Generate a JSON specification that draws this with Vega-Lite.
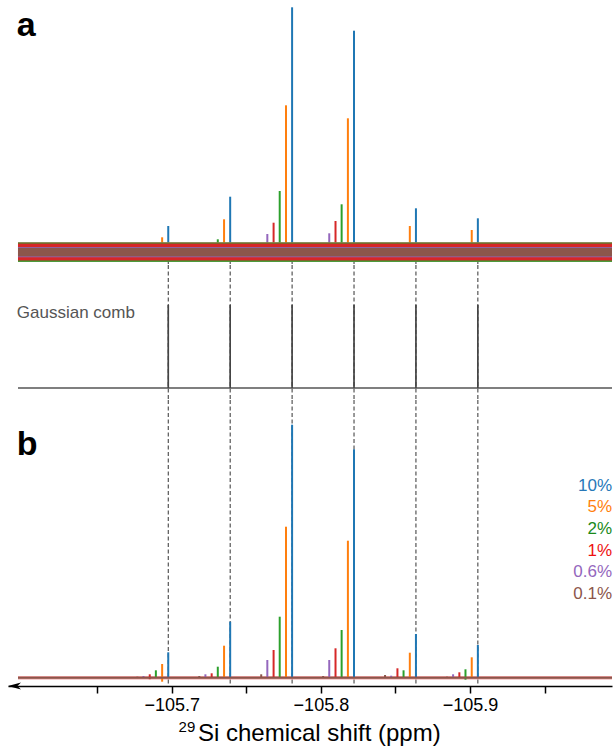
{
  "$schema": "https://vega.github.io/schema/vega-lite/v6.json",
  "background": "white",
  "padding": {"left": 8, "right": 3, "top": 0, "bottom": 0},
  "spacing": 0,
  "bounds": "flush",
  "config": {"view": {"stroke": null}, "font": "Liberation Sans", "concat": {"spacing": 0}},
  "datasets": {
    "peaks": [
      {"series": "10%", "ppm": -105.6977, "a": 26, "b": 25.4, "lo": 0},
      {"series": "5%", "ppm": -105.6936, "a": 14.7, "b": 13.7, "lo": -4},
      {"series": "2%", "ppm": -105.6894, "a": 7.5, "b": 7.4, "lo": 0},
      {"series": "1%", "ppm": -105.6853, "a": 3.5, "b": 3.4, "lo": -1.5},
      {"series": "0.6%", "ppm": -105.6811, "a": 1.7, "b": 1.7, "lo": 0},
      {"series": "0.1%", "ppm": -105.677, "a": 1, "b": 1, "lo": 0},
      {"series": "10%", "ppm": -105.7392, "a": 55.3, "b": 56, "lo": 0},
      {"series": "5%", "ppm": -105.7351, "a": 32.7, "b": 32, "lo": 0},
      {"series": "2%", "ppm": -105.7309, "a": 12.7, "b": 11, "lo": 0},
      {"series": "1%", "ppm": -105.7268, "a": 4.4, "b": 4.4, "lo": 0},
      {"series": "0.6%", "ppm": -105.7226, "a": 3.4, "b": 3.4, "lo": 0},
      {"series": "0.1%", "ppm": -105.7185, "a": 1.7, "b": 1.7, "lo": 0},
      {"series": "10%", "ppm": -105.7807, "a": 244.7, "b": 253, "lo": 0},
      {"series": "5%", "ppm": -105.7766, "a": 146.7, "b": 151, "lo": 0},
      {"series": "2%", "ppm": -105.7724, "a": 61, "b": 61, "lo": 0},
      {"series": "1%", "ppm": -105.7683, "a": 29.3, "b": 27.7, "lo": 0},
      {"series": "0.6%", "ppm": -105.7641, "a": 18, "b": 17.7, "lo": 0},
      {"series": "0.1%", "ppm": -105.76, "a": 3.4, "b": 3.4, "lo": 0},
      {"series": "10%", "ppm": -105.8222, "a": 221.3, "b": 228.4, "lo": 0},
      {"series": "5%", "ppm": -105.8181, "a": 133.7, "b": 137, "lo": 0},
      {"series": "2%", "ppm": -105.8139, "a": 47.7, "b": 47.7, "lo": 0},
      {"series": "1%", "ppm": -105.8098, "a": 31, "b": 29.4, "lo": 0},
      {"series": "0.6%", "ppm": -105.8056, "a": 18.7, "b": 17.7, "lo": 0},
      {"series": "0.1%", "ppm": -105.8015, "a": 1.7, "b": 1.7, "lo": 0},
      {"series": "10%", "ppm": -105.8637, "a": 43.7, "b": 43.7, "lo": 0},
      {"series": "5%", "ppm": -105.8596, "a": 26, "b": 25, "lo": 0},
      {"series": "2%", "ppm": -105.8554, "a": 7.4, "b": 7.4, "lo": 0},
      {"series": "1%", "ppm": -105.8513, "a": 9.4, "b": 9.4, "lo": 0},
      {"series": "0.6%", "ppm": -105.8471, "a": 2, "b": 2, "lo": 0},
      {"series": "0.1%", "ppm": -105.843, "a": 2.7, "b": 2.7, "lo": 0},
      {"series": "10%", "ppm": -105.9052, "a": 33.7, "b": 32.7, "lo": 0},
      {"series": "5%", "ppm": -105.9011, "a": 22, "b": 20.4, "lo": 0},
      {"series": "2%", "ppm": -105.8969, "a": 8.4, "b": 8.4, "lo": -2},
      {"series": "1%", "ppm": -105.8928, "a": 5.4, "b": 5.4, "lo": 0},
      {"series": "0.6%", "ppm": -105.8886, "a": 3.4, "b": 3.4, "lo": 0},
      {"series": "0.1%", "ppm": -105.8845, "a": 1, "b": 1, "lo": 0}
    ],
    "noise": [
      {"series": "10%", "ppm": -105.597, "ppm2": -105.9951, "lo": -9.8, "hi": 9.8},
      {"series": "5%", "ppm": -105.597, "ppm2": -105.9951, "lo": -9.6, "hi": 9.5},
      {"series": "2%", "ppm": -105.597, "ppm2": -105.9951, "lo": -9.7, "hi": 9.2},
      {"series": "1%", "ppm": -105.597, "ppm2": -105.9951, "lo": -8.4, "hi": 8.5},
      {"series": "0.6%", "ppm": -105.597, "ppm2": -105.9951, "lo": -5.2, "hi": 5},
      {"series": "0.1%", "ppm": -105.597, "ppm2": -105.9951, "lo": -4.4, "hi": 4.2}
    ],
    "comb": [
      {"ppm": -105.6977, "amp": 1},
      {"ppm": -105.7392, "amp": 1},
      {"ppm": -105.7807, "amp": 1},
      {"ppm": -105.8222, "amp": 1},
      {"ppm": -105.8637, "amp": 1},
      {"ppm": -105.9052, "amp": 1}
    ],
    "span": [{"ppm": -105.597, "ppm2": -105.9951}],
    "legend": [
      {"series": "10%"}, {"series": "5%"}, {"series": "2%"}, {"series": "1%"}, {"series": "0.6%"}, {"series": "0.1%"}
    ]
  },
  "vconcat": [
    {
      "width": 604,
      "height": 265,
      "layer": [
        {
          "data": {"name": "comb"},
          "mark": {"type": "rule", "color": "#333333", "strokeWidth": 1, "strokeDash": [4, 2.5]},
          "encoding": {
            "x": {"field": "ppm", "type": "quantitative", "scale": {"domain": [-105.9951, -105.5903], "reverse": true, "nice": false, "zero": false}, "axis": null},
            "y": {"datum": -8, "type": "quantitative", "scale": {"domain": [-13, 252], "nice": false, "zero": false}, "axis": null},
            "y2": {"datum": -13}
          }
        },
        {
          "data": {"name": "peaks"},
          "mark": {"type": "rule", "strokeWidth": 2},
          "encoding": {
            "x": {"field": "ppm", "type": "quantitative", "scale": {"domain": [-105.9951, -105.5903], "reverse": true, "nice": false, "zero": false}, "axis": null},
            "y": {"field": "a", "type": "quantitative", "scale": {"domain": [-13, 252], "nice": false, "zero": false}, "axis": null},
            "y2": {"datum": 0},
            "color": {"field": "series", "type": "nominal", "scale": {"domain": ["10%", "5%", "2%", "1%", "0.6%", "0.1%"], "range": ["#1f77b4", "#ff7f0e", "#2ca02c", "#d62728", "#9467bd", "#8c564b"]}, "legend": null}
          }
        },
        {
          "data": {"name": "noise"},
          "mark": {"type": "rect"},
          "encoding": {
            "x": {"field": "ppm", "type": "quantitative", "scale": {"domain": [-105.9951, -105.5903], "reverse": true, "nice": false, "zero": false}, "axis": null},
            "x2": {"field": "ppm2"},
            "y": {"field": "lo", "type": "quantitative", "scale": {"domain": [-13, 252], "nice": false, "zero": false}, "axis": null},
            "y2": {"field": "hi"},
            "color": {"field": "series", "type": "nominal", "scale": {"domain": ["10%", "5%", "2%", "1%", "0.6%", "0.1%"], "range": ["#1f77b4", "#ff7f0e", "#2ca02c", "#d62728", "#9467bd", "#8c564b"]}, "legend": null}
          }
        },
        {
          "data": {"values": [{"label": "a"}]},
          "mark": {"type": "text", "fontSize": 34, "fontWeight": "bold", "align": "left", "baseline": "alphabetic", "color": "#000000"},
          "encoding": {
            "x": {"datum": -105.5962, "type": "quantitative", "scale": {"domain": [-105.9951, -105.5903], "reverse": true, "nice": false, "zero": false}, "axis": null},
            "y": {"datum": 216, "type": "quantitative", "scale": {"domain": [-13, 252], "nice": false, "zero": false}, "axis": null},
            "text": {"field": "label"}
          }
        }
      ]
    },
    {
      "width": 604,
      "height": 135,
      "layer": [
        {
          "data": {"name": "comb"},
          "mark": {"type": "rule", "color": "#333333", "strokeWidth": 1, "strokeDash": [4, 2.5]},
          "encoding": {
            "x": {"field": "ppm", "type": "quantitative", "scale": {"domain": [-105.9951, -105.5903], "reverse": true, "nice": false, "zero": false}, "axis": null}
          }
        },
        {
          "data": {"name": "span"},
          "mark": {"type": "rule", "color": "#555555", "strokeWidth": 1.6},
          "encoding": {
            "x": {"field": "ppm", "type": "quantitative", "scale": {"domain": [-105.9951, -105.5903], "reverse": true, "nice": false, "zero": false}, "axis": null},
            "x2": {"field": "ppm2"},
            "y": {"datum": 0, "type": "quantitative", "scale": {"domain": [-0.1446, 1.4819], "nice": false, "zero": false}, "axis": null}
          }
        },
        {
          "data": {"name": "comb"},
          "mark": {"type": "rule", "color": "#444444", "strokeWidth": 1.7},
          "encoding": {
            "x": {"field": "ppm", "type": "quantitative", "scale": {"domain": [-105.9951, -105.5903], "reverse": true, "nice": false, "zero": false}, "axis": null},
            "y": {"field": "amp", "type": "quantitative", "scale": {"domain": [-0.1446, 1.4819], "nice": false, "zero": false}, "axis": null},
            "y2": {"datum": 0}
          }
        },
        {
          "data": {"values": [{"label": "Gaussian comb"}]},
          "mark": {"type": "text", "fontSize": 17, "align": "left", "baseline": "alphabetic", "color": "#555555"},
          "encoding": {
            "x": {"datum": -105.5962, "type": "quantitative", "scale": {"domain": [-105.9951, -105.5903], "reverse": true, "nice": false, "zero": false}, "axis": null},
            "y": {"datum": 0.843, "type": "quantitative", "scale": {"domain": [-0.1446, 1.4819], "nice": false, "zero": false}, "axis": null},
            "text": {"field": "label"}
          }
        }
      ]
    },
    {
      "width": 604,
      "height": 286,
      "resolve": {"scale": {"y": "independent"}},
      "layer": [
        {
          "data": {"name": "comb"},
          "mark": {"type": "rule", "color": "#333333", "strokeWidth": 1, "strokeDash": [4, 2.5]},
          "encoding": {
            "x": {"field": "ppm", "type": "quantitative", "scale": {"domain": [-105.9951, -105.5903], "reverse": true, "nice": false, "zero": false},
              "axis": {"values": [-105.65, -105.7, -105.75, -105.8, -105.85, -105.9, -105.95], "labelExpr": "abs(datum.value*10 - round(datum.value*10)) < 0.01 ? format(datum.value, '.1f') : ''", "title": null, "domainColor": "#000000", "domainWidth": 1.5, "tickColor": "#000000", "tickWidth": 1.5, "tickSize": 7, "labelFontSize": 18, "labelColor": "#000000", "labelPadding": 3, "grid": false, "labelOverlap": false, "labelFlush": false}}
          }
        },
        {
          "data": {"name": "span"},
          "mark": {"type": "rule", "color": "#d62728", "strokeWidth": 3.5, "opacity": 0.45},
          "encoding": {
            "x": {"field": "ppm", "type": "quantitative", "scale": {"domain": [-105.9951, -105.5903], "reverse": true, "nice": false, "zero": false},
              "axis": {"values": [-105.65, -105.7, -105.75, -105.8, -105.85, -105.9, -105.95], "labelExpr": "abs(datum.value*10 - round(datum.value*10)) < 0.01 ? format(datum.value, '.1f') : ''", "title": null, "domainColor": "#000000", "domainWidth": 1.5, "tickColor": "#000000", "tickWidth": 1.5, "tickSize": 7, "labelFontSize": 18, "labelColor": "#000000", "labelPadding": 3, "grid": false, "labelOverlap": false, "labelFlush": false}},
            "x2": {"field": "ppm2"},
            "y": {"datum": 0, "type": "quantitative", "scale": {"domain": [-8.3, 277.7], "nice": false, "zero": false}, "axis": null}
          }
        },
        {
          "data": {"name": "peaks"},
          "mark": {"type": "rule", "strokeWidth": 2},
          "encoding": {
            "x": {"field": "ppm", "type": "quantitative", "scale": {"domain": [-105.9951, -105.5903], "reverse": true, "nice": false, "zero": false},
              "axis": {"values": [-105.65, -105.7, -105.75, -105.8, -105.85, -105.9, -105.95], "labelExpr": "abs(datum.value*10 - round(datum.value*10)) < 0.01 ? format(datum.value, '.1f') : ''", "title": null, "domainColor": "#000000", "domainWidth": 1.5, "tickColor": "#000000", "tickWidth": 1.5, "tickSize": 7, "labelFontSize": 18, "labelColor": "#000000", "labelPadding": 3, "grid": false, "labelOverlap": false, "labelFlush": false}},
            "y": {"field": "b", "type": "quantitative", "scale": {"domain": [-8.3, 277.7], "nice": false, "zero": false}, "axis": null},
            "y2": {"field": "lo"},
            "color": {"field": "series", "type": "nominal", "scale": {"domain": ["10%", "5%", "2%", "1%", "0.6%", "0.1%"], "range": ["#1f77b4", "#ff7f0e", "#2ca02c", "#d62728", "#9467bd", "#8c564b"]}, "legend": null}
          }
        },
        {
          "data": {"name": "span"},
          "mark": {"type": "rule", "color": "#8c564b", "strokeWidth": 2},
          "encoding": {
            "x": {"field": "ppm", "type": "quantitative", "scale": {"domain": [-105.9951, -105.5903], "reverse": true, "nice": false, "zero": false},
              "axis": {"values": [-105.65, -105.7, -105.75, -105.8, -105.85, -105.9, -105.95], "labelExpr": "abs(datum.value*10 - round(datum.value*10)) < 0.01 ? format(datum.value, '.1f') : ''", "title": null, "domainColor": "#000000", "domainWidth": 1.5, "tickColor": "#000000", "tickWidth": 1.5, "tickSize": 7, "labelFontSize": 18, "labelColor": "#000000", "labelPadding": 3, "grid": false, "labelOverlap": false, "labelFlush": false}},
            "x2": {"field": "ppm2"},
            "y": {"datum": 0, "type": "quantitative", "scale": {"domain": [-8.3, 277.7], "nice": false, "zero": false}, "axis": null}
          }
        },
        {
          "data": {"name": "legend"},
          "mark": {"type": "text", "fontSize": 17, "align": "right", "baseline": "middle"},
          "encoding": {
            "x": {"datum": -105.9951, "type": "quantitative", "scale": {"domain": [-105.9951, -105.5903], "reverse": true, "nice": false, "zero": false},
              "axis": {"values": [-105.65, -105.7, -105.75, -105.8, -105.85, -105.9, -105.95], "labelExpr": "abs(datum.value*10 - round(datum.value*10)) < 0.01 ? format(datum.value, '.1f') : ''", "title": null, "domainColor": "#000000", "domainWidth": 1.5, "tickColor": "#000000", "tickWidth": 1.5, "tickSize": 7, "labelFontSize": 18, "labelColor": "#000000", "labelPadding": 3, "grid": false, "labelOverlap": false, "labelFlush": false}},
            "y": {"field": "series", "type": "ordinal", "scale": {"type": "point", "domain": ["_1", "_2", "_3", "10%", "5%", "2%", "1%", "0.6%", "0.1%", "_4", "_5", "_6", "_7"], "padding": 0.59, "align": 0.797}, "axis": null},
            "text": {"field": "series"},
            "fill": {"field": "series", "type": "nominal", "scale": {"domain": ["10%", "5%", "2%", "1%", "0.6%", "0.1%"], "range": ["#2878b8", "#ff7f0e", "#1a8a1a", "#ee1111", "#9467bd", "#8c564b"]}, "legend": null}
          }
        },
        {
          "data": {"values": [{"label": "arrow"}]},
          "mark": {"type": "point", "shape": "M 0 0 L 2 -0.55 L 1.45 0 L 2 0.55 Z", "size": 169, "filled": true, "color": "#000000", "opacity": 1},
          "encoding": {
            "x": {"datum": -105.5903, "type": "quantitative", "scale": {"domain": [-105.9951, -105.5903], "reverse": true, "nice": false, "zero": false},
              "axis": {"values": [-105.65, -105.7, -105.75, -105.8, -105.85, -105.9, -105.95], "labelExpr": "abs(datum.value*10 - round(datum.value*10)) < 0.01 ? format(datum.value, '.1f') : ''", "title": null, "domainColor": "#000000", "domainWidth": 1.5, "tickColor": "#000000", "tickWidth": 1.5, "tickSize": 7, "labelFontSize": 18, "labelColor": "#000000", "labelPadding": 3, "grid": false, "labelOverlap": false, "labelFlush": false}},
            "y": {"datum": -8.3, "type": "quantitative", "scale": {"domain": [-8.3, 277.7], "nice": false, "zero": false}, "axis": null}
          }
        },
        {
          "data": {"values": [{"label": "b"}]},
          "mark": {"type": "text", "fontSize": 34, "fontWeight": "bold", "align": "left", "baseline": "alphabetic", "color": "#000000"},
          "encoding": {
            "x": {"datum": -105.5962, "type": "quantitative", "scale": {"domain": [-105.9951, -105.5903], "reverse": true, "nice": false, "zero": false},
              "axis": {"values": [-105.65, -105.7, -105.75, -105.8, -105.85, -105.9, -105.95], "labelExpr": "abs(datum.value*10 - round(datum.value*10)) < 0.01 ? format(datum.value, '.1f') : ''", "title": null, "domainColor": "#000000", "domainWidth": 1.5, "tickColor": "#000000", "tickWidth": 1.5, "tickSize": 7, "labelFontSize": 18, "labelColor": "#000000", "labelPadding": 3, "grid": false, "labelOverlap": false, "labelFlush": false}},
            "y": {"datum": 222.7, "type": "quantitative", "scale": {"domain": [-8.3, 277.7], "nice": false, "zero": false}, "axis": null},
            "text": {"field": "label"}
          }
        },
        {
          "data": {"values": [{"label": "29"}]},
          "mark": {"type": "text", "fontSize": 15, "align": "left", "baseline": "alphabetic", "color": "#000000"},
          "encoding": {
            "x": {"datum": -105.7046, "type": "quantitative", "scale": {"domain": [-105.9951, -105.5903], "reverse": true, "nice": false, "zero": false},
              "axis": {"values": [-105.65, -105.7, -105.75, -105.8, -105.85, -105.9, -105.95], "labelExpr": "abs(datum.value*10 - round(datum.value*10)) < 0.01 ? format(datum.value, '.1f') : ''", "title": null, "domainColor": "#000000", "domainWidth": 1.5, "tickColor": "#000000", "tickWidth": 1.5, "tickSize": 7, "labelFontSize": 18, "labelColor": "#000000", "labelPadding": 3, "grid": false, "labelOverlap": false, "labelFlush": false}},
            "y": {"datum": -54.3, "type": "quantitative", "scale": {"domain": [-8.3, 277.7], "nice": false, "zero": false}, "axis": null},
            "text": {"field": "label"}
          }
        },
        {
          "data": {"values": [{"label": "Si chemical shift (ppm)"}]},
          "mark": {"type": "text", "fontSize": 24, "align": "left", "baseline": "alphabetic", "color": "#000000"},
          "encoding": {
            "x": {"datum": -105.7176, "type": "quantitative", "scale": {"domain": [-105.9951, -105.5903], "reverse": true, "nice": false, "zero": false},
              "axis": {"values": [-105.65, -105.7, -105.75, -105.8, -105.85, -105.9, -105.95], "labelExpr": "abs(datum.value*10 - round(datum.value*10)) < 0.01 ? format(datum.value, '.1f') : ''", "title": null, "domainColor": "#000000", "domainWidth": 1.5, "tickColor": "#000000", "tickWidth": 1.5, "tickSize": 7, "labelFontSize": 18, "labelColor": "#000000", "labelPadding": 3, "grid": false, "labelOverlap": false, "labelFlush": false}},
            "y": {"datum": -63.3, "type": "quantitative", "scale": {"domain": [-8.3, 277.7], "nice": false, "zero": false}, "axis": null},
            "text": {"field": "label"}
          }
        }
      ]
    }
  ]
}
